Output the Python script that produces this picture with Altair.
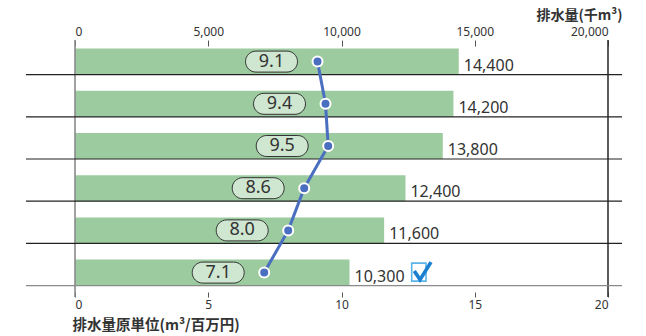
import altair as alt
import pandas as pd

years = [2010, 2011, 2012, 2013, 2014, 2015]
volume = [14400, 14200, 13800, 12400, 11600, 10300]   # 排水量(千m³)
rate = [9.1, 9.4, 9.5, 8.6, 8.0, 7.1]                  # 排水量原単位(m³/百万円)
top_ticks = [0, 5000, 10000, 15000, 20000]
bottom_ticks = [0, 5, 10, 15, 20]
frame_ticks = [0, 20000]

df = pd.DataFrame({"year": years, "volume": volume, "rate": rate})
frame_df = pd.DataFrame({"v": frame_ticks})

NUM_FONT = "Noto Sans"
JP_FONT = "Noto Sans CJK JP"
BAR_GREEN = "#9ccb9f"
BLUE = "#4a6fc0"

PILL = ("M -61.5 -10.5 L -30.5 -10.5 A 10.5 10.5 0 0 1 -30.5 10.5 "
        "L -61.5 10.5 A 10.5 10.5 0 0 1 -61.5 -10.5 Z")
CHECK_BOX = "M 62.2 -9.5 L 76.5 -9.5 L 76.5 8.5 L 62.2 8.5 Z"
CHECK_MARK = "M 64.8 -1.5 L 70.5 7 L 81.5 -10.5"

VOL_SCALE = alt.Scale(domain=[0, 20000], nice=False)
RATE_SCALE = alt.Scale(domain=[0, 20], nice=False)

yscale = alt.Scale(paddingInner=0.384, paddingOuter=0.237, align=0.43)
y_main = alt.Y("year:O", scale=yscale,
               axis=alt.Axis(ticks=False, domain=False, labelPadding=4,
                             labelFontSize=11.5, labelFont=NUM_FONT,
                             labelColor="#333", title=None))
y_plain = alt.Y("year:O", scale=yscale, axis=None)

x_vol = alt.X("volume:Q", scale=VOL_SCALE,
              axis=alt.Axis(orient="top", values=top_ticks,
                            labelExpr="format(datum.value, ',')",
                            offset=-6, tickSize=6, tickColor="#555",
                            tickWidth=1, labelPadding=2, labelFontSize=12,
                            labelFont=NUM_FONT, labelColor="#333",
                            domain=False, grid=False,
                            title="排水量(千m³)", titleFont=JP_FONT,
                            titleFontSize=14, titleFontWeight="bold",
                            titleColor="#333", titleX=547, titleY=-27,
                            titleAlign="right", titleBaseline="alphabetic"))
x_vol_plain = alt.X("volume:Q", scale=VOL_SCALE, axis=None)

x_rate = alt.X("rate:Q", scale=RATE_SCALE,
               axis=alt.Axis(orient="bottom", values=bottom_ticks, offset=-5,
                             tickSize=5, tickColor="#555", labelPadding=2,
                             labelFontSize=12, labelFont=NUM_FONT,
                             labelColor="#333", domain=False, grid=False,
                             title="排水量原単位(m³/百万円)", titleFont=JP_FONT,
                             titleFontSize=14.5, titleFontWeight="bold",
                             titleColor="#333", titleX=-3, titleY=37,
                             titleAlign="left", titleBaseline="alphabetic"))
x_rate_plain = alt.X("rate:Q", scale=RATE_SCALE, axis=None)

base = alt.Chart(df)
last = base.transform_filter("datum.year == 2015")

frame = alt.Chart(frame_df).mark_rule(strokeWidth=1.6).encode(
    x=alt.X("v:Q", scale=VOL_SCALE, axis=None),
    y=alt.value(0), y2=alt.value(257),
    color=alt.condition("datum.v == 0", alt.value("#8a8a8a"), alt.value("#333333")),
)

bars = base.mark_bar(color=BAR_GREEN).encode(x=x_vol, y=y_main)

rules = base.mark_rule(strokeWidth=1.2).encode(
    y=alt.Y("year:O", bandPosition=1, scale=yscale, axis=None),
    x=alt.value(-49), x2=alt.value(547),
    color=alt.condition("datum.year == 2015", alt.value("#8a8a8a"), alt.value("#222222")),
)

vol_text = base.mark_text(align="left", baseline="middle", dx=5, dy=4,
                          fontSize=16, font=NUM_FONT, color="#333").encode(
    x=x_vol_plain, y=y_plain, text=alt.Text("volume:Q", format=","))

box = last.mark_point(shape=CHECK_BOX, size=4, filled=False, color="#5ab4e8",
                      strokeWidth=1.6, opacity=1).encode(x=x_vol_plain, y=y_plain)
tick = last.mark_point(shape=CHECK_MARK, size=4, filled=False, color="#1a7fd0",
                       strokeWidth=3.6, opacity=1, strokeJoin="miter").encode(
    x=x_vol_plain, y=y_plain)

line = base.mark_line(color=BLUE, strokeWidth=3).encode(
    x=x_rate, y=y_plain, order="year:O")
points = base.mark_circle(size=100, color=BLUE, stroke="white",
                          strokeWidth=2, opacity=1).encode(x=x_rate_plain, y=y_plain)
pills = base.mark_point(shape=PILL, size=4, filled=True, fill="#cfe6d1",
                        stroke="#333", strokeWidth=1, opacity=1).encode(
    x=x_rate_plain, y=y_plain)
pill_text = base.mark_text(dx=-46, align="center", baseline="middle",
                           fontSize=18, font=NUM_FONT, color="#333").encode(
    x=x_rate_plain, y=y_plain, text=alt.Text("rate:Q", format=".1f"))

chart = (
    alt.layer(bars, frame, rules, vol_text, box, tick, line, points, pills, pill_text)
    .resolve_scale(x="independent")
    .properties(width=533, height=257,
                autosize=alt.AutoSizeParams(type="none"),
                padding={"left": 75, "top": 40, "right": 38, "bottom": 39},
                background="white")
    .configure_view(strokeWidth=0)
)

chart.save("out.html", embed_options={"renderer": "svg", "actions": False})
